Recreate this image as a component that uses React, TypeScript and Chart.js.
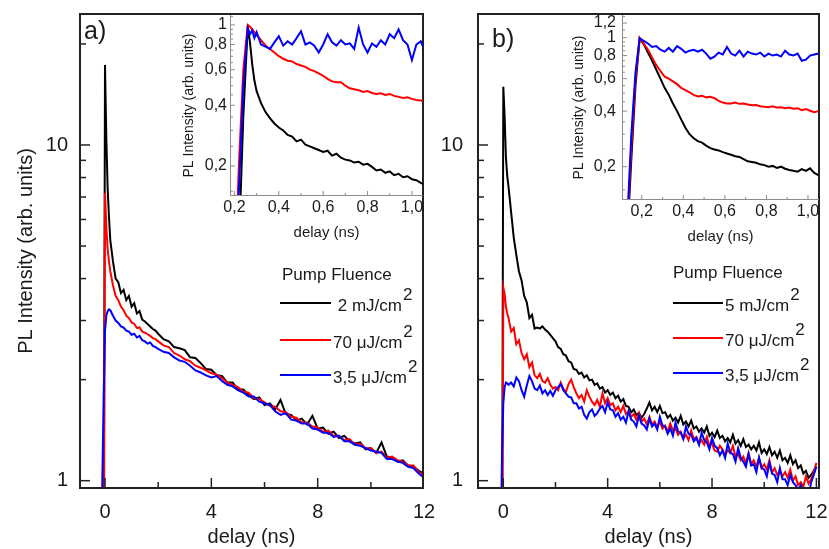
import React, { useEffect, useRef } from 'react';
import { Chart, registerables } from 'chart.js';

Chart.register(...registerables);

const FONT = "'Liberation Sans', Arial, Helvetica, sans-serif";
const COLORS = ['#000000', '#ff0000', '#0000ff'];

// ---------- panel a): delay (ns) ----------
const T_MAIN_A = [-0.2, -0.1, -0.05, 0, 0.05, 0.1, 0.15, 0.2,
  0.3, 0.4, 0.5, 0.6, 0.7, 0.8, 0.9, 1.0, 1.1, 1.2, 1.3, 1.4, 1.5, 1.6, 1.7, 1.8, 1.9, 2.0,
  2.2, 2.4, 2.6, 2.8, 3.0, 3.2, 3.4, 3.6, 3.8, 4.0,
  4.2, 4.4, 4.6, 4.8, 5.0, 5.2, 5.4, 5.6, 5.8, 6.0,
  6.2, 6.4, 6.6, 6.8, 7.0, 7.2, 7.4, 7.6, 7.8, 8.0,
  8.2, 8.4, 8.6, 8.8, 9.0, 9.2, 9.4, 9.6, 9.8, 10.0,
  10.2, 10.4, 10.6, 10.8, 11.0, 11.2, 11.4, 11.6, 11.8, 12.0];
const A_BLACK = [0.3, 0.3, 0.5, 17.3, 10.5, 7.4, 6.1, 5.2,
  4.5, 4.0, 3.9, 3.62, 3.7, 3.45, 3.55, 3.3, 3.38, 3.15, 3.2, 3.02, 2.98, 2.93, 2.88, 2.83, 2.80, 2.74,
  2.64, 2.60, 2.50, 2.48, 2.45, 2.33, 2.32, 2.24, 2.15, 2.14,
  2.06, 2.05, 1.96, 1.96, 1.87, 1.87, 1.80, 1.75, 1.77, 1.68,
  1.70, 1.63, 1.74, 1.58, 1.57, 1.51, 1.53, 1.47, 1.56, 1.43,
  1.44, 1.38, 1.40, 1.34, 1.36, 1.31, 1.29, 1.30, 1.24, 1.25,
  1.21, 1.30, 1.18, 1.17, 1.14, 1.15, 1.11, 1.10, 1.07, 1.05];
const A_RED = [0.3, 0.3, 0.3, 7.2, 5.7, 4.9, 4.5, 4.2,
  3.82, 3.55, 3.45, 3.3, 3.22, 3.1, 3.05, 2.96, 2.93, 2.85, 2.86, 2.78, 2.76, 2.73, 2.70, 2.66, 2.64, 2.60,
  2.53, 2.50, 2.40, 2.36, 2.30, 2.27, 2.20, 2.17, 2.13, 2.09,
  2.07, 2.02, 1.96, 1.93, 1.90, 1.84, 1.83, 1.76, 1.75, 1.71,
  1.67, 1.66, 1.61, 1.60, 1.55, 1.54, 1.49, 1.49, 1.45, 1.44,
  1.40, 1.41, 1.36, 1.36, 1.32, 1.33, 1.28, 1.29, 1.25, 1.25,
  1.21, 1.22, 1.17, 1.18, 1.15, 1.14, 1.11, 1.11, 1.06, 1.04];
const A_BLUE = [0.4, 1.0, 1.8, 2.8, 3.1, 3.2, 3.24, 3.22,
  3.1, 3.0, 2.95, 2.88, 2.86, 2.80, 2.78, 2.72, 2.74, 2.67, 2.70, 2.62, 2.60, 2.56, 2.58, 2.52, 2.50, 2.47,
  2.42, 2.40, 2.33, 2.28, 2.26, 2.20, 2.13, 2.10, 2.06, 2.03,
  2.05, 1.98, 1.93, 1.91, 1.86, 1.83, 1.78, 1.78, 1.72, 1.70,
  1.68, 1.61, 1.57, 1.59, 1.52, 1.51, 1.48, 1.48, 1.43, 1.42,
  1.39, 1.39, 1.35, 1.36, 1.31, 1.31, 1.28, 1.27, 1.25, 1.23,
  1.22, 1.21, 1.16, 1.16, 1.14, 1.13, 1.10, 1.09, 1.05, 1.02];

// ---------- panel b): delay (ns) ----------
const T_MAIN_B = [-0.2, -0.1, -0.05, 0, 0.05, 0.1, 0.15, 0.2,
  0.3, 0.4, 0.5, 0.6, 0.7, 0.8, 0.9, 1.0, 1.1, 1.2, 1.3, 1.4, 1.5, 1.6, 1.7, 1.8, 1.9, 2.0,
  2.1, 2.2, 2.3, 2.4, 2.5, 2.6, 2.7, 2.8, 2.9, 3.0,
  3.1, 3.2, 3.3, 3.4, 3.5, 3.6, 3.7, 3.8, 3.9, 4.0,
  4.1, 4.2, 4.3, 4.4, 4.5, 4.6, 4.7, 4.8, 4.9, 5.0,
  5.1, 5.2, 5.3, 5.4, 5.5, 5.6, 5.7, 5.8, 5.9, 6.0,
  6.1, 6.2, 6.3, 6.4, 6.5, 6.6, 6.7, 6.8, 6.9, 7.0,
  7.1, 7.2, 7.3, 7.4, 7.5, 7.6, 7.7, 7.8, 7.9, 8.0,
  8.1, 8.2, 8.3, 8.4, 8.5, 8.6, 8.7, 8.8, 8.9, 9.0,
  9.1, 9.2, 9.3, 9.4, 9.5, 9.6, 9.7, 9.8, 9.9, 10.0,
  10.1, 10.2, 10.3, 10.4, 10.5, 10.6, 10.7, 10.8, 10.9, 11.0,
  11.1, 11.2, 11.3, 11.4, 11.5, 11.6, 11.7, 11.8, 11.9, 12.0];
const B_BLACK = [0.3, 0.3, 0.5, 14.9, 12.2, 9.2, 8.1, 7.5,
  6.3, 5.3, 4.7, 4.2, 3.95, 3.55, 3.4, 3.05, 3.12, 2.84, 2.86, 2.84, 2.88, 2.82, 2.78, 2.72, 2.66, 2.60,
  2.50, 2.47, 2.38, 2.36, 2.27, 2.25, 2.15, 2.14, 2.08, 2.10,
  2.03, 2.06, 1.99, 2.00, 1.93, 1.95, 1.88, 1.90, 1.83, 1.86,
  1.80, 1.83, 1.76, 1.79, 1.72, 1.75, 1.67, 1.66, 1.60, 1.63,
  1.57, 1.59, 1.54, 1.58, 1.64, 1.71, 1.62, 1.66, 1.60, 1.67,
  1.59, 1.60, 1.54, 1.57, 1.51, 1.54, 1.49, 1.56, 1.47, 1.50,
  1.45, 1.51, 1.43, 1.45, 1.40, 1.43, 1.39, 1.45, 1.36, 1.39,
  1.35, 1.41, 1.34, 1.36, 1.31, 1.34, 1.30, 1.37, 1.29, 1.32,
  1.27, 1.33, 1.26, 1.28, 1.24, 1.27, 1.23, 1.30, 1.21, 1.24,
  1.20, 1.26, 1.19, 1.22, 1.17, 1.23, 1.15, 1.17, 1.13, 1.19,
  1.12, 1.15, 1.09, 1.11, 1.05, 1.07, 1.02, 1.04, 1.07, 1.10];
const B_RED = [0.3, 0.3, 0.3, 3.76, 3.6, 3.3, 3.15, 3.05,
  2.78, 2.85, 2.55, 2.62, 2.40, 2.30, 2.38, 2.18, 2.25, 2.06, 2.02, 2.08, 1.98, 1.96, 2.02, 1.93, 1.88, 1.90,
  1.86, 1.96, 1.88, 1.84, 1.94, 2.00, 1.90, 1.82, 1.76, 1.80,
  1.72, 1.86, 1.78, 1.72, 1.68, 1.74, 1.66, 1.82, 1.70, 1.76,
  1.68, 1.70, 1.62, 1.66, 1.60, 1.67, 1.58, 1.61, 1.55, 1.58,
  1.52, 1.59, 1.50, 1.53, 1.47, 1.55, 1.47, 1.50, 1.44, 1.50,
  1.43, 1.46, 1.40, 1.48, 1.41, 1.43, 1.37, 1.40, 1.34, 1.37,
  1.32, 1.41, 1.33, 1.35, 1.29, 1.32, 1.28, 1.35, 1.27, 1.29,
  1.23, 1.22, 1.27, 1.24, 1.19, 1.23, 1.21, 1.27, 1.18, 1.20,
  1.15, 1.18, 1.13, 1.21, 1.12, 1.15, 1.10, 1.17, 1.09, 1.12,
  1.08, 1.15, 1.06, 1.09, 1.04, 1.07, 1.03, 1.06, 1.02, 1.08,
  1.00, 1.03, 0.97, 0.99, 0.96, 1.03, 0.98, 1.01, 1.06, 1.13];
const B_BLUE = [0.3, 0.6, 1.2, 1.7, 1.9, 1.96, 1.95, 1.93,
  1.96, 1.91, 2.03, 1.98, 1.86, 1.78, 1.92, 2.05, 1.98, 1.88, 1.86, 1.92, 1.82, 1.86, 1.80, 1.85, 1.79, 1.86,
  1.90, 1.94, 1.86, 1.82, 1.78, 1.77, 1.70, 1.70, 1.64, 1.66,
  1.57, 1.53, 1.60, 1.63, 1.56, 1.59, 1.64, 1.67, 1.60, 1.71,
  1.63, 1.62, 1.55, 1.59, 1.52, 1.55, 1.49, 1.61, 1.52, 1.50,
  1.45, 1.56, 1.48, 1.46, 1.42, 1.53, 1.45, 1.48, 1.42, 1.55,
  1.46, 1.45, 1.38, 1.43, 1.36, 1.49, 1.40, 1.39, 1.33, 1.45,
  1.38, 1.37, 1.31, 1.34, 1.28, 1.39, 1.32, 1.30, 1.24, 1.34,
  1.27, 1.25, 1.19, 1.23, 1.17, 1.29, 1.21, 1.20, 1.14, 1.25,
  1.17, 1.14, 1.10, 1.20, 1.11, 1.12, 1.06, 1.17, 1.09, 1.08,
  1.03, 1.13, 1.05, 1.04, 0.99, 1.09, 1.01, 1.01, 0.97, 1.04,
  0.99, 0.97, 0.93, 0.97, 0.92, 0.94, 0.90, 0.99, 1.04, 1.10];

// ---------- insets ----------
const T_INSET_A = [0.2, 0.22, 0.24, 0.26, 0.27, 0.28, 0.29, 0.30,
  0.32, 0.34, 0.36, 0.38, 0.40, 0.42, 0.44, 0.46, 0.48, 0.50, 0.52, 0.54, 0.56, 0.58, 0.60,
  0.62, 0.64, 0.66, 0.68, 0.70, 0.72, 0.74, 0.76, 0.78, 0.80, 0.82, 0.84, 0.86, 0.88, 0.90,
  0.92, 0.94, 0.96, 0.98, 1.00, 1.02, 1.04, 1.05];
const IA_BLACK = [0.05, 0.08, 0.35, 0.98, 0.82, 0.64, 0.53, 0.47,
  0.41, 0.37, 0.345, 0.325, 0.31, 0.30, 0.285, 0.28, 0.265, 0.27, 0.255, 0.25, 0.245, 0.24, 0.235,
  0.238, 0.225, 0.23, 0.22, 0.215, 0.213, 0.208, 0.21, 0.203, 0.205, 0.198, 0.19, 0.192, 0.185, 0.188,
  0.18, 0.183, 0.176, 0.178, 0.172, 0.17, 0.165, 0.163];
const IA_RED = [0.05, 0.2, 0.6, 1.0, 0.98, 0.95, 0.92, 0.89,
  0.84, 0.79, 0.76, 0.73, 0.70, 0.68, 0.665, 0.66, 0.64, 0.63, 0.62, 0.60, 0.59, 0.575, 0.56,
  0.54, 0.525, 0.52, 0.52, 0.50, 0.485, 0.48, 0.475, 0.465, 0.47, 0.46, 0.455, 0.458, 0.45, 0.455,
  0.445, 0.44, 0.435, 0.438, 0.43, 0.425, 0.422, 0.42];
const IA_BLUE = [0.05, 0.15, 0.5, 0.96, 0.90, 0.94, 0.86, 0.92,
  0.80, 0.78, 0.76, 0.82, 0.88, 0.79, 0.83, 0.80, 0.86, 0.93, 0.80, 0.82, 0.79, 0.73, 0.80,
  0.90, 0.82, 0.79, 0.84, 0.80, 0.81, 0.76, 0.97, 0.80, 0.73, 0.81, 0.78, 0.84, 0.80, 0.90,
  0.86, 0.95, 0.84, 0.80, 0.67, 0.80, 0.83, 0.78];

const T_INSET_B = [0.1, 0.13, 0.15, 0.17, 0.19,
  0.21, 0.23, 0.25, 0.27, 0.29, 0.31, 0.33, 0.35, 0.37, 0.39, 0.41, 0.43, 0.45, 0.47, 0.49,
  0.51, 0.53, 0.55, 0.57, 0.59, 0.61, 0.63, 0.65, 0.67, 0.69, 0.71, 0.73, 0.75, 0.77, 0.79,
  0.81, 0.83, 0.85, 0.87, 0.89, 0.91, 0.93, 0.95, 0.97, 0.99, 1.01, 1.03, 1.05];
const IB_BLACK = [0.05, 0.08, 0.22, 0.55, 0.99,
  0.92, 0.83, 0.75, 0.67, 0.60, 0.535, 0.49, 0.44, 0.40, 0.36, 0.325, 0.30, 0.285, 0.275, 0.27,
  0.26, 0.252, 0.248, 0.245, 0.24, 0.236, 0.232, 0.228, 0.226, 0.22, 0.214, 0.212, 0.21, 0.206, 0.204,
  0.2, 0.202, 0.197, 0.2, 0.195, 0.192, 0.19, 0.188, 0.194, 0.19, 0.196, 0.185, 0.18];
const IB_RED = [0.05, 0.09, 0.26, 0.6, 1.0,
  0.93, 0.86, 0.78, 0.71, 0.66, 0.615, 0.60, 0.58, 0.56, 0.535, 0.52, 0.505, 0.49, 0.48, 0.485,
  0.475, 0.478, 0.47, 0.455, 0.445, 0.44, 0.44, 0.445, 0.438, 0.44, 0.435, 0.43, 0.432, 0.425, 0.422,
  0.42, 0.425, 0.418, 0.42, 0.415, 0.418, 0.412, 0.415, 0.405, 0.41, 0.402, 0.395, 0.40];
const IB_BLUE = [0.05, 0.1, 0.3, 0.65, 0.99,
  0.96, 0.93, 0.89, 0.90, 0.86, 0.84, 0.88, 0.84, 0.90, 0.87, 0.83, 0.85, 0.86, 0.84, 0.86,
  0.82, 0.77, 0.79, 0.83, 0.81, 0.89, 0.82, 0.80, 0.85, 0.79, 0.84, 0.82, 0.81, 0.83, 0.79,
  0.82, 0.80, 0.81, 0.79, 0.85, 0.81, 0.80, 0.82, 0.75, 0.76, 0.80, 0.81, 0.82];

// ---------- labels & ticks ----------
const LABELS_A = [' 2 mJ/cm²', '70 μJ/cm²', '3,5 μJ/cm²'];
const LABELS_B = ['5 mJ/cm²', '70 μJ/cm²', '3,5 μJ/cm²'];
const LEGEND_TITLE = 'Pump Fluence';
const MAIN_X_TICKS = [0, 4, 8, 12];
const MAIN_X_MINOR = [2, 6, 10];
const MAIN_Y_TICKS = [1, 10];
const MAIN_Y_MINOR = [2, 3, 4, 5, 6, 7, 8, 9, 20];
const INSET_X_TICKS = [0.2, 0.4, 0.6, 0.8, 1.0];
const INSET_X_MINOR = [0.1, 0.3, 0.5, 0.7, 0.9];
const INSET_A_Y_TICKS = [0.2, 0.4, 0.6, 0.8, 1];
const INSET_B_Y_TICKS = [0.2, 0.4, 0.6, 0.8, 1, 1.2];
const INSET_Y_MINOR = [0.15, 0.25, 0.3, 0.35, 0.45, 0.5, 0.55, 0.65, 0.7, 0.75, 0.85, 0.9, 0.95, 1.1, 1.3];

const frameTicksPlugin = {
  id: 'frameTicks',
  afterDatasetsDraw(chart: any, _args: any, o: any) {
    const { ctx, chartArea: a, scales } = chart;
    const xs = scales.x;
    const ys = scales.y;
    ctx.save();
    ctx.lineCap = 'butt';
    ctx.strokeStyle = o.tickColor;
    ctx.lineWidth = o.tickWidth;
    const xt = (vals: number[], len: number) => vals.forEach((v) => {
      const p = xs.getPixelForValue(v);
      if (p < a.left + 1 || p > a.right - 1) return;
      ctx.beginPath(); ctx.moveTo(p, a.bottom); ctx.lineTo(p, a.bottom - len); ctx.stroke();
    });
    const yt = (vals: number[], len: number) => vals.forEach((v) => {
      const p = ys.getPixelForValue(v);
      if (p < a.top + 1 || p > a.bottom - 1) return;
      ctx.beginPath(); ctx.moveTo(a.left, p); ctx.lineTo(a.left + len, p); ctx.stroke();
    });
    xt(o.xMajor, o.majorLen); xt(o.xMinor, o.minorLen);
    yt(o.yMajor, o.majorLen); yt(o.yMinor, o.minorLen);
    ctx.strokeStyle = o.frameColor;
    ctx.lineWidth = o.frameWidth;
    if (o.full) {
      ctx.strokeRect(a.left, a.top, a.right - a.left, a.bottom - a.top);
    } else {
      ctx.beginPath();
      ctx.moveTo(a.left + 0.5, a.top);
      ctx.lineTo(a.left + 0.5, a.bottom - 0.5);
      ctx.lineTo(a.right, a.bottom - 0.5);
      ctx.stroke();
    }
    ctx.restore();
  },
};

const legendPlugin = {
  id: 'pumpLegend',
  afterDraw(chart: any, _args: any, o: any) {
    const { ctx } = chart;
    ctx.save();
    ctx.fillStyle = '#1a1a1a';
    ctx.textBaseline = 'alphabetic';
    ctx.textAlign = 'left';
    ctx.font = `${o.panelSize}px ${FONT}`;
    ctx.fillText(o.panelText, o.panelX, o.panelY);
    ctx.font = `${o.fontSize}px ${FONT}`;
    ctx.fillText(LEGEND_TITLE, o.titleX, o.titleY);
    chart.data.datasets.forEach((ds: any, i: number) => {
      const ly = o.lineYs[i];
      ctx.strokeStyle = ds.borderColor;
      ctx.lineWidth = 2;
      ctx.beginPath(); ctx.moveTo(o.x1, ly); ctx.lineTo(o.x2, ly); ctx.stroke();
      const parts = String(ds.label).split('²');
      const by = ly + 8;
      ctx.fillStyle = '#1a1a1a';
      ctx.fillText(parts[0], o.textX, by);
      if (parts.length > 1) {
        const w = ctx.measureText(parts[0]).width;
        ctx.fillText('2', o.textX + w + 1, by - 11);
      }
    });
    ctx.restore();
  },
};

function makeDatasets(xs: number[], series: number[][], labels: string[], width: number) {
  return series.map((ys, i) => ({
    label: labels[i],
    data: xs.map((x, j) => ({ x, y: ys[j] })),
    borderColor: COLORS[i],
    backgroundColor: COLORS[i],
    borderWidth: width,
    pointRadius: 0,
    tension: 0,
    fill: false,
    order: 3 - i,
  }));
}

const zeroPad = (s: any) => { s.paddingTop = 0; s.paddingBottom = 0; s.paddingLeft = 0; s.paddingRight = 0; };

function mainConfig(p: any) {
  return {
    type: 'line',
    data: { datasets: makeDatasets(p.xs, p.series, p.labels, 2) },
    options: {
      animation: false,
      responsive: false,
      events: [],
      layout: { padding: { top: 14, right: p.padRight, left: 0, bottom: 0 } },
      plugins: {
        legend: { display: false },
        tooltip: { enabled: false },
        frameTicks: {
          full: true, frameColor: '#222', frameWidth: 2, tickColor: '#222', tickWidth: 1.5,
          majorLen: 10, minorLen: 6,
          xMajor: MAIN_X_TICKS, xMinor: MAIN_X_MINOR, yMajor: MAIN_Y_TICKS, yMinor: MAIN_Y_MINOR,
        },
        pumpLegend: p.legend,
      },
      scales: {
        x: {
          type: 'linear', min: p.xMin, max: p.xMax,
          grid: { display: false, drawTicks: false }, border: { display: false },
          ticks: {
            font: { family: FONT, size: 20 }, color: '#1a1a1a', padding: 12,
            autoSkip: false, maxRotation: 0, callback: (v: any) => String(v),
          },
          afterBuildTicks: (s: any) => { s.ticks = MAIN_X_TICKS.map((v) => ({ value: v })); },
          afterFit: (s: any) => { s.height = 61; zeroPad(s); },
          title: { display: true, text: 'delay (ns)', color: '#1a1a1a', font: { family: FONT, size: 20 }, padding: { top: 0, bottom: 0 } },
        },
        y: {
          type: 'logarithmic', min: 0.951, max: 24.56,
          grid: { display: false, drawTicks: false }, border: { display: false },
          ticks: {
            font: { family: FONT, size: 20 }, color: '#1a1a1a', padding: p.yPad,
            autoSkip: false, callback: (v: any) => String(v),
          },
          afterBuildTicks: (s: any) => { s.ticks = MAIN_Y_TICKS.map((v) => ({ value: v })); },
          afterFit: (s: any) => { s.width = p.yWidth; zeroPad(s); },
          title: {
            display: p.showYTitle, text: 'PL Intensity (arb. units)', color: '#1a1a1a',
            font: { family: FONT, size: 20 }, padding: { top: 14, bottom: 0 },
          },
        },
      },
    },
    plugins: [frameTicksPlugin, legendPlugin],
  };
}

function insetConfig(p: any) {
  return {
    type: 'line',
    data: { datasets: makeDatasets(p.xs, p.series, ['a', 'b', 'c'], 2) },
    options: {
      animation: false,
      responsive: false,
      events: [],
      layout: { padding: { top: 15, right: 10, left: 0, bottom: 0 } },
      plugins: {
        legend: { display: false },
        tooltip: { enabled: false },
        frameTicks: {
          full: false, frameColor: '#8c8c8c', frameWidth: 1, tickColor: '#8c8c8c', tickWidth: 1,
          majorLen: 5, minorLen: 3,
          xMajor: INSET_X_TICKS, xMinor: INSET_X_MINOR, yMajor: p.yTicks, yMinor: INSET_Y_MINOR,
        },
      },
      scales: {
        x: {
          type: 'linear', min: p.xMin, max: p.xMax,
          grid: { display: false, drawTicks: false }, border: { display: false },
          ticks: {
            font: { family: FONT, size: 16 }, color: '#1a1a1a', padding: 2,
            autoSkip: false, maxRotation: 0, callback: (v: any) => Number(v).toFixed(1).replace('.', ','),
          },
          afterBuildTicks: (s: any) => { s.ticks = INSET_X_TICKS.map((v) => ({ value: v })); },
          afterFit: (s: any) => { s.height = p.xHeight; zeroPad(s); },
          title: { display: true, text: 'delay (ns)', color: '#1a1a1a', font: { family: FONT, size: 15 }, padding: { top: 0, bottom: p.xTitlePad } },
        },
        y: {
          type: 'logarithmic', min: p.yMin, max: p.yMax,
          grid: { display: false, drawTicks: false }, border: { display: false },
          ticks: {
            font: { family: FONT, size: 16 }, color: '#1a1a1a', padding: p.yPad,
            autoSkip: false, callback: (v: any) => String(v).replace('.', ','),
          },
          afterBuildTicks: (s: any) => { s.ticks = p.yTicks.map((v: number) => ({ value: v })); },
          afterFit: (s: any) => { s.width = p.yWidth; zeroPad(s); },
          title: {
            display: true, text: 'PL Intensity (arb. units)', color: '#1a1a1a',
            font: { family: FONT, size: 14 }, padding: { top: p.yTitlePad, bottom: 0 },
          },
        },
      },
    },
    plugins: [frameTicksPlugin],
  };
}

export default function App() {
  const mainA = useRef<HTMLCanvasElement>(null);
  const mainB = useRef<HTMLCanvasElement>(null);
  const insA = useRef<HTMLCanvasElement>(null);
  const insB = useRef<HTMLCanvasElement>(null);

  useEffect(() => {
    const charts: Chart[] = [];
    charts.push(new Chart(mainA.current as any, mainConfig({
      xs: T_MAIN_A, series: [A_BLACK, A_RED, A_BLUE], labels: LABELS_A,
      xMin: -0.94, xMax: 11.96, padRight: 17, yWidth: 80, yPad: 12, showYTitle: true,
      legend: {
        panelText: 'a)', panelX: 84, panelY: 39, panelSize: 25,
        titleX: 282, titleY: 280, fontSize: 17,
        x1: 280, x2: 331, textX: 333, lineYs: [303, 340, 375],
      },
    }) as any));
    charts.push(new Chart(mainB.current as any, mainConfig({
      xs: T_MAIN_B, series: [B_BLACK, B_RED, B_BLUE], labels: LABELS_B,
      xMin: -0.97, xMax: 12.1, padRight: 10, yWidth: 48, yPad: 15, showYTitle: false,
      legend: {
        panelText: 'b)', panelX: 62, panelY: 47, panelSize: 25,
        titleX: 243, titleY: 278, fontSize: 17,
        x1: 243, x2: 293, textX: 295, lineYs: [303, 338, 373],
      },
    }) as any));
    charts.push(new Chart(insA.current as any, insetConfig({
      xs: T_INSET_A, series: [IA_BLACK, IA_RED, IA_BLUE], yTicks: INSET_A_Y_TICKS,
      xMin: 0.18, xMax: 1.05, yMin: 0.142, yMax: 1.12,
      yWidth: 60, xHeight: 54, yPad: 3, yTitlePad: 11, xTitlePad: 8,
    }) as any));
    charts.push(new Chart(insB.current as any, insetConfig({
      xs: T_INSET_B, series: [IB_BLACK, IB_RED, IB_BLUE], yTicks: INSET_B_Y_TICKS,
      xMin: 0.105, xMax: 1.053, yMin: 0.132, yMax: 1.327,
      yWidth: 52, xHeight: 50, yPad: 6, yTitlePad: 1, xTitlePad: 4,
    }) as any));
    return () => { charts.forEach((c) => c.destroy()); };
  }, []);

  const abs = (left: number): React.CSSProperties => ({ position: 'absolute', left, top: 0 });
  return (
    <div style={{ position: 'fixed', left: 0, top: 0, width: 829, height: 549, background: '#ffffff', overflow: 'hidden' }}>
      <canvas ref={mainA} width={440} height={549} style={abs(0)} />
      <canvas ref={mainB} width={399} height={549} style={abs(430)} />
      <canvas ref={insA} width={263} height={250} style={abs(170)} />
      <canvas ref={insB} width={259} height={250} style={abs(570)} />
    </div>
  );
}
